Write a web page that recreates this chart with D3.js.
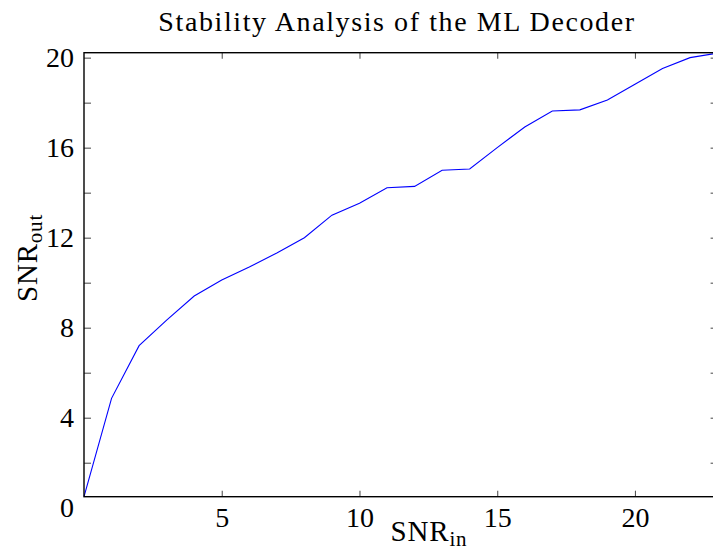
<!DOCTYPE html>
<html>
<head>
<meta charset="utf-8">
<script src="https://cdn.jsdelivr.net/npm/d3@7.9.0/dist/d3.min.js"></script>
<style>
  html, body { margin: 0; padding: 0; background: #fff; }
  svg { display: block; font-family: "Liberation Serif", "DejaVu Serif", serif; }
</style>
</head>
<body>
<div id="chart"></div>
<script>
// values
const snrIn  = [0, 1, 2, 3, 4, 5, 6, 7, 8, 9, 10, 11, 12, 13, 14, 15, 16, 17, 18, 19, 20, 21, 22, 23];
const snrOut = [0.49, 4.86, 7.2, 8.34, 9.41, 10.12, 10.7, 11.32, 12.0, 13.0, 13.53, 14.22, 14.28,
                15.0, 15.05, 16.0, 16.92, 17.63, 17.68, 18.12, 18.82, 19.52, 20.0, 20.2];

const xTicks = [5, 10, 15, 20];
const yTicks = [2, 4, 6, 8, 10, 12, 14, 16, 18, 20];
const yLabels = [0, 4, 8, 12, 16, 20];

const width = 713, height = 552;
const svg = d3.select('#chart').append('svg')
  .attr('width', width)
  .attr('height', height);

// plot box (right edge falls just past the window, like the reference)
const box = { left: 84, right: 717.6, top: 52.7, bottom: 496.7 };

const x = d3.scaleLinear().domain([0, 23]).range([box.left, box.right]);
const y = d3.scaleLinear().domain([0.49, 20.22]).range([box.bottom, box.top]);

const points = snrIn.map((d, i) => ({ x: d, y: snrOut[i] }));

// tick marks, all pointing inward
function tickAxis(axis, tx, ty) {
  const g = svg.append('g')
    .attr('transform', `translate(${tx},${ty})`)
    .call(axis);
  g.select('.domain').remove();
  g.selectAll('.tick line').attr('stroke', '#555').attr('stroke-width', 1.1);
  g.selectAll('.tick text').remove();
  return g;
}
tickAxis(d3.axisLeft(y).tickValues(yTicks).tickSize(-7), box.left, 0);
tickAxis(d3.axisRight(y).tickValues(yTicks).tickSize(-7), box.right, 0);
tickAxis(d3.axisBottom(x).tickValues(xTicks).tickSize(-6), 0, box.bottom);
tickAxis(d3.axisTop(x).tickValues(xTicks).tickSize(-6), 0, box.top);

// the data line
const line = d3.line().x(d => x(d.x)).y(d => y(d.y));
svg.append('path')
  .datum(points)
  .attr('d', line)
  .attr('fill', 'none')
  .attr('stroke', '#0000ff')
  .attr('stroke-width', 1.1);

// frame
svg.append('rect')
  .attr('x', box.left).attr('y', box.top)
  .attr('width', box.right - box.left)
  .attr('height', box.bottom - box.top)
  .attr('fill', 'none')
  .attr('stroke', '#000')
  .attr('stroke-width', 1.4);

// tick labels
const yLab = svg.append('g')
  .attr('transform', `translate(${box.left - 10},0)`)
  .call(d3.axisLeft(y).tickValues(yLabels).tickSize(0).tickPadding(0));
yLab.select('.domain').remove();
yLab.selectAll('text')
  .attr('font-family', '"Liberation Serif", serif')
  .attr('font-size', 28)
  .attr('fill', '#000');

const xLab = svg.append('g')
  .attr('transform', `translate(0,${box.bottom})`)
  .call(d3.axisBottom(x).tickValues(xTicks).tickSize(0).tickPadding(10));
xLab.select('.domain').remove();
xLab.selectAll('text')
  .attr('font-family', '"Liberation Serif", serif')
  .attr('font-size', 28)
  .attr('fill', '#000');

// title
svg.append('text')
  .attr('x', 397).attr('y', 31)
  .attr('text-anchor', 'middle')
  .attr('font-size', 28)
  .attr('letter-spacing', 1.6)
  .text('Stability Analysis of the ML Decoder');

// axis labels with subscripts
const xTitle = svg.append('text')
  .attr('x', 429).attr('y', 541)
  .attr('text-anchor', 'middle')
  .attr('font-size', 29)
  .attr('letter-spacing', 0.8);
xTitle.append('tspan').text('SNR');
xTitle.append('tspan').attr('font-size', 21).attr('dy', 5).text('in');

const yTitle = svg.append('text')
  .attr('transform', 'translate(37,258) rotate(-90)')
  .attr('text-anchor', 'middle')
  .attr('font-size', 29)
  .attr('letter-spacing', 0.8);
yTitle.append('tspan').text('SNR');
yTitle.append('tspan').attr('font-size', 21).attr('dy', 5).text('out');
</script>
</body>
</html>
